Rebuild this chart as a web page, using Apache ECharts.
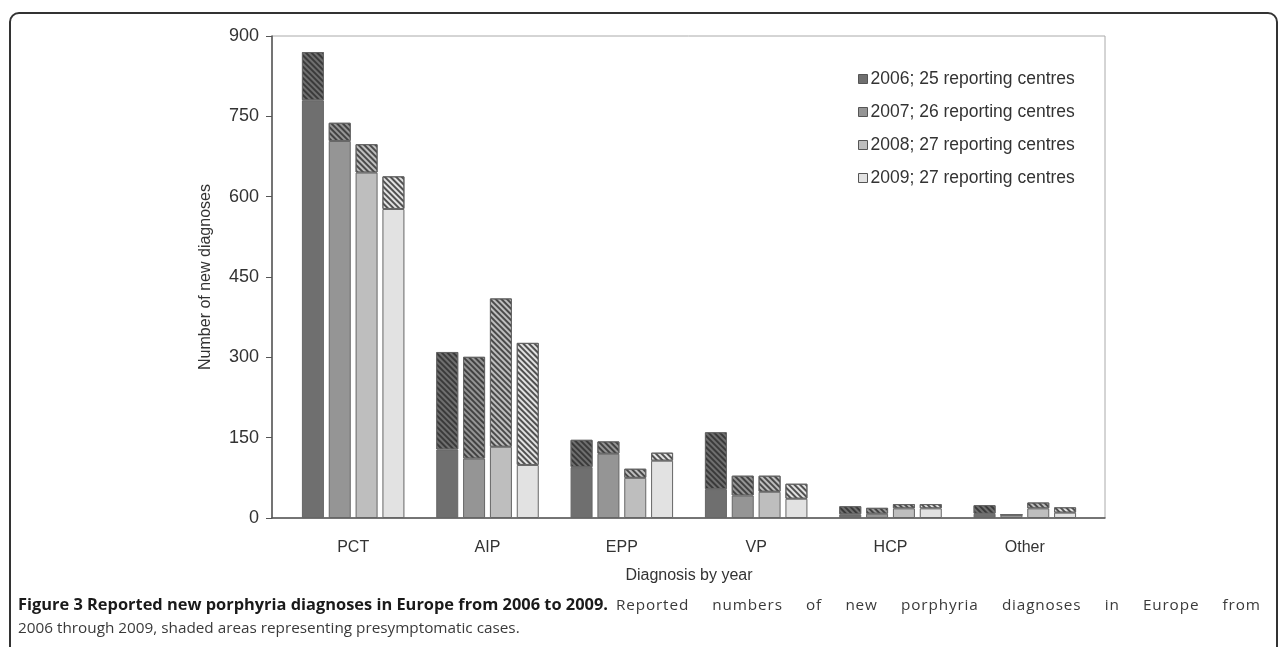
<!DOCTYPE html>
<html lang="en">

<head>
  <meta charset="UTF-8">
  <title>Porphyria diagnoses</title>
  <style>
    body { margin: 0; background: #fff; }
  </style>
</head>

<body>
  <div id="main" style="width: 1283px;height:647px;"></div>
  <script src="https://cdn.jsdelivr.net/npm/echarts@6/dist/echarts.min.js"></script>
  <script>
    // diagnosis groups
    const categories = ['PCT', 'AIP', 'EPP', 'VP', 'HCP', 'Other'];
    const years = ['2006; 25 reporting centres', '2007; 26 reporting centres',
      '2008; 27 reporting centres', '2009; 27 reporting centres'];

    // symptomatic (plain part of each bar)
    const symptomatic2006 = [780, 128, 95, 54, 7, 8];
    const symptomatic2007 = [704, 111, 120, 42, 8, 6];
    const symptomatic2008 = [645, 133, 75, 49, 18, 18];
    const symptomatic2009 = [577, 99, 107, 36, 18, 10];

    // presymptomatic (shaded part on top)
    const presymptomatic2006 = [90, 182, 51, 106, 15, 16];
    const presymptomatic2007 = [34, 190, 23, 37, 11, 0];
    const presymptomatic2008 = [53, 277, 17, 30, 8, 11];
    const presymptomatic2009 = [61, 228, 15, 28, 8, 10];

    const yTicks = [0, 150, 300, 450, 600, 750, 900];

    const captionBold = 'Figure 3 Reported new porphyria diagnoses in Europe from 2006 to 2009.';
    const captionLine1 = 'Reported numbers of new porphyria diagnoses in Europe from';
    const captionLine2 = '2006 through 2009, shaded areas representing presymptomatic cases.';

    const symptomatic = [symptomatic2006, symptomatic2007, symptomatic2008, symptomatic2009];
    const presymptomatic = [presymptomatic2006, presymptomatic2007, presymptomatic2008, presymptomatic2009];
    const greys = ['#6f6f6f', '#959595', '#bebebe', '#e2e2e2'];

    // caption fonts
    const boldFont = { fontFamily: 'Open Sans', fontWeight: 'bold', fontSize: 16.4, color: '#1a1a1a', lineHeight: 23 };
    const normFont = { fontFamily: 'Open Sans', fontWeight: 'normal', fontSize: 15.3, color: '#3a3a3a', lineHeight: 23 };

    // first caption line is justified in the original (spread words, a little letters too, up to x=1260)
    const ctx = document.createElement('canvas').getContext('2d');
    ctx.font = 'bold 16.4px "Open Sans"';
    const boldW = ctx.measureText(captionBold).width;
    ctx.font = '15.3px "Open Sans"';
    const startX = 18 + boldW + 8;
    const extra = 1260 - startX - ctx.measureText(captionLine1).width;
    const nChars = captionLine1.length;
    const nGaps = captionLine1.split(' ').length - 1;
    const letterSp = extra * 0.25 / (nChars - 1);
    const wordSp = extra * 0.75 / nGaps;

    const rich = { b: boldFont, n: normFont };
    const charStyle = {};
    let line1 = '';
    captionLine1.split('').forEach((ch) => {
      if (!(ch in charStyle)) {
        const key = 'c' + Object.keys(charStyle).length;
        charStyle[ch] = key;
        const w = ctx.measureText(ch).width + letterSp + (ch === ' ' ? wordSp : 0);
        rich[key] = Object.assign({}, normFont, { width: w });
      }
      line1 += '{' + charStyle[ch] + '|' + ch + '}';
    });

    const myChart = echarts.init(document.getElementById('main'));

    const series = [];
    years.forEach((name, i) => {
      series.push({
        name: name,
        type: 'bar',
        stack: 'y' + i,
        xAxisIndex: 1,
        yAxisIndex: 1,
        barWidth: 22,
        barGap: '22%',
        itemStyle: { color: greys[i], borderColor: '#666', borderWidth: 1 },
        data: symptomatic[i]
      });
      series.push({
        name: name + ' (presymptomatic)',
        type: 'bar',
        stack: 'y' + i,
        xAxisIndex: 1,
        yAxisIndex: 1,
        barWidth: 22,
        barGap: '22%',
        itemStyle: {
          color: greys[i],
          borderColor: '#666',
          borderWidth: 1,
          decal: {
            color: 'rgba(45,45,45,0.8)',
            dashArrayX: [1, 0],
            dashArrayY: [1.5, 2],
            rotation: Math.PI / 4
          }
        },
        data: presymptomatic[i]
      });
    });

    const option = {
      animation: false,
      textStyle: { fontFamily: 'Liberation Sans' },
      title: {
        left: 18,
        top: 594,
        padding: 0,
        text: '{b|' + captionBold + '}{n|  }' + line1 + '\n{n|' + captionLine2 + '}',
        textStyle: { rich: rich }
      },
      graphic: [{
        type: 'rect',
        shape: { x: 10, y: 13, width: 1267, height: 660, r: 9 },
        style: { fill: 'none', stroke: '#333', lineWidth: 2 },
        silent: true
      }],
      legend: {
        data: years,
        orient: 'vertical',
        left: 853,
        top: 65,
        itemWidth: 9,
        itemHeight: 9,
        itemGap: 15,
        icon: 'rect',
        itemStyle: { borderColor: '#555', borderWidth: 1 },
        textStyle: { fontSize: 17.5, color: '#333', lineHeight: 18, padding: [0, 0, 0, -2] }
      },
      grid: [
        { left: 272, right: 178, top: 36, bottom: 129, show: true, borderColor: '#aaa', borderWidth: 1 },
        { left: 286, right: 191, top: 36, bottom: 129 }
      ],
      xAxis: [{
        gridIndex: 0,
        type: 'value',
        min: 0,
        max: 1,
        axisLine: { show: true, onZero: false, lineStyle: { color: '#555', width: 1.5 } },
        axisTick: { show: false },
        axisLabel: { show: false },
        splitLine: { show: false }
      }, {
        gridIndex: 1,
        type: 'category',
        data: categories,
        axisLine: { show: false },
        axisTick: { show: false },
        axisLabel: { margin: 22, fontSize: 16, color: '#333' },
        name: 'Diagnosis by year',
        nameLocation: 'middle',
        nameGap: 50,
        nameTextStyle: { fontSize: 16, color: '#333' }
      }],
      yAxis: [{
        gridIndex: 0,
        type: 'value',
        min: yTicks[0],
        max: yTicks[yTicks.length - 1],
        interval: 150,
        axisLine: { show: true, lineStyle: { color: '#555', width: 1.5 } },
        axisTick: { show: true, inside: false, length: 6, lineStyle: { color: '#555' } },
        axisLabel: { margin: 13, fontSize: 18, color: '#333' },
        splitLine: { show: false },
        name: 'Number of new diagnoses',
        nameLocation: 'middle',
        nameGap: 58,
        nameTextStyle: { fontSize: 16, color: '#333' }
      }, {
        gridIndex: 1,
        type: 'value',
        min: yTicks[0],
        max: yTicks[yTicks.length - 1],
        show: false
      }],
      series: series
    };

    myChart.setOption(option);
  </script>
</body>

</html>
